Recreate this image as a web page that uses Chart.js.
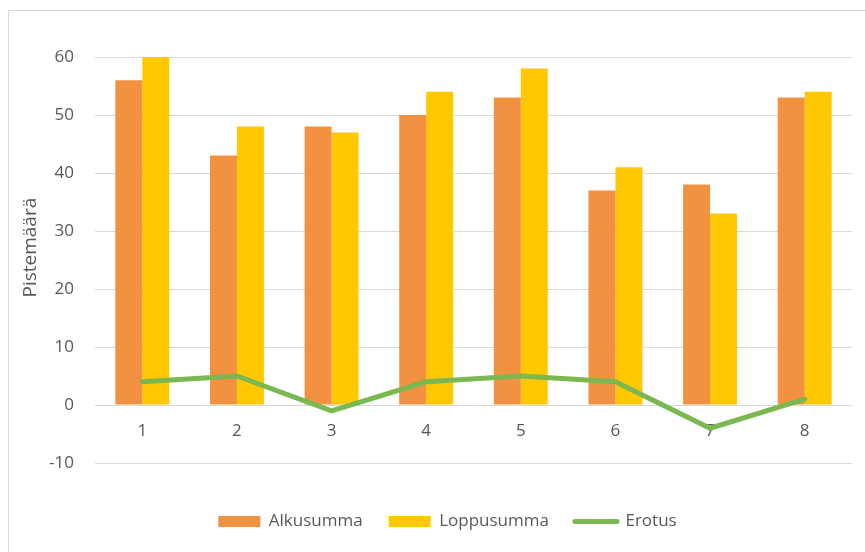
<!DOCTYPE html>
<html>
<head>
<meta charset="utf-8">
<script src="https://cdn.jsdelivr.net/npm/chart.js@4"></script>
<style>
  body { margin: 0; background: #fff; }
  #kehys {
    position: absolute; left: 8px; top: 10px;
    width: 856px; height: 541px;
    border-top: 1px solid #d9d9d9; border-left: 1px solid #d9d9d9;
  }
</style>
</head>
<body>
<div id="kehys"><canvas id="kaavio" width="856" height="541"></canvas></div>
<script>
// arvot luettu kuvasta
const kierrokset = ['1', '2', '3', '4', '5', '6', '7', '8']
const alkusumma = [56, 43, 48, 50, 53, 37, 38, 53]
const loppusumma = [60, 48, 47, 54, 58, 41, 33, 54]
const erotus = [4, 5, -1, 4, 5, 4, -4, 1]

const harmaa = '#595959'
const fontti = 'Open Sans'

const canvas = document.getElementById('kaavio')
const kaavio = new Chart(canvas, {
  type: 'bar',
  data: {
    labels: kierrokset,
    datasets: [
      {
        label: 'Alkusumma',
        data: alkusumma,
        backgroundColor: '#F29140',
      },
      {
        label: 'Loppusumma',
        data: loppusumma,
        backgroundColor: '#FFC800',
      },
      {
        type: 'line',
        label: 'Erotus',
        data: erotus,
        borderColor: '#7AB851',
        backgroundColor: '#7AB851',
        borderWidth: 5,
        pointRadius: 0,
        borderCapStyle: 'round',
        order: -1,
      }
    ]
  },
  options: {
    responsive: false,
    animation: false,
    categoryPercentage: 0.57,
    barPercentage: 1,
    // vasen reunus isompi jotta legenda on samassa kohdassa kuin mallissa
    layout: { padding: { left: 34, right: 13, top: 46, bottom: 12 } },
    plugins: {
      tooltip: { enabled: false },
      legend: {
        position: 'bottom',
        labels: {
          usePointStyle: true,
          pointStyleWidth: 42,
          boxHeight: 11,
          padding: 26,
          color: harmaa,
          font: { family: fontti, size: 17 },
          generateLabels: (chart) => chart.data.datasets.map((ds, i) => ({
            text: ds.label,
            fillStyle: ds.backgroundColor,
            strokeStyle: ds.type === 'line' ? ds.borderColor : ds.backgroundColor,
            lineWidth: ds.type === 'line' ? 5 : 0,
            lineCap: 'round',
            pointStyle: ds.type === 'line' ? 'line' : 'rect',
            fontColor: harmaa,
            hidden: false,
            datasetIndex: i,
          }))
        }
      }
    },
    scales: {
      x: {
        position: { y: 0 },
        grid: { display: false, drawTicks: false },
        border: { display: false },
        ticks: { color: harmaa, padding: 16, font: { family: fontti, size: 17 } }
      },
      // tyhja akseli jotta legenda jaa alemmas
      vali: {
        type: 'category',
        axis: 'x',
        position: 'bottom',
        grid: { display: false, drawTicks: false },
        border: { display: false },
        ticks: { display: false },
        afterFit: (s) => { s.height = 24 }
      },
      y: {
        min: -10,
        max: 60,
        ticks: { stepSize: 10, color: harmaa, padding: 21, font: { family: fontti, size: 17 } },
        grid: { color: '#d9d9d9', drawTicks: false },
        border: { display: false },
        title: {
          display: true,
          text: '     Pistemäärä',
          color: harmaa,
          font: { family: fontti, size: 19 },
          padding: { top: -24, bottom: 0 }
        },
        afterFit: (s) => { s.width = 52 }
      }
    }
  }
})
</script>
</body>
</html>
